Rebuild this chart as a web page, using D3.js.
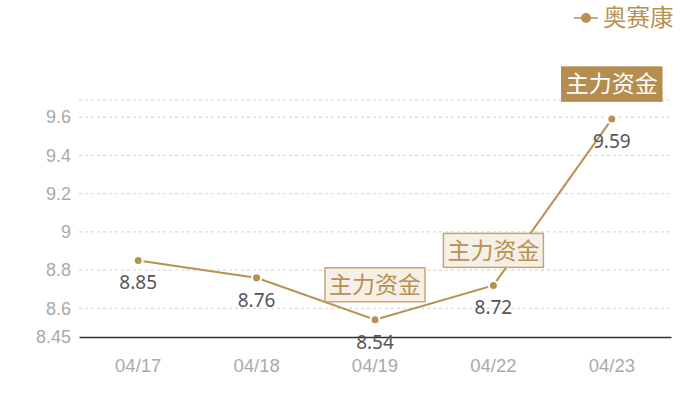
<!DOCTYPE html>
<html>
<head>
<meta charset="utf-8">
<script src="https://cdn.jsdelivr.net/npm/d3@7"></script>
<style>
  body { margin: 0; background: #fff; }
  svg { font-family: "Noto Sans", "Noto Sans CJK SC", sans-serif; }
</style>
</head>
<body>
<div id="chart"></div>
<script>
var categories = ["04/17", "04/18", "04/19", "04/22", "04/23"];
var values = [8.85, 8.76, 8.54, 8.72, 9.59];
var seriesName = "奥赛康";
var yTicks = [8.45, 8.6, 8.8, 9, 9.2, 9.4, 9.6];
var yMin = 8.45, yMax = 9.69;
// flags: which dates have a "主力资金" label, and which one is highlighted
var flagDates = ["04/19", "04/22", "04/23"];
var flagText = "主力资金";
var flagDark = ["04/23"];

function init() {
    var w = 700, h = 400;
    var margin = {left: 79, right: 29, top: 100, bottom: 63};
    var gold = "#b8904f";

    var svg = d3.select("#chart").append("svg")
        .attr("width", w).attr("height", h);

    var x = d3.scaleBand()
        .domain(categories)
        .range([margin.left, w - margin.right]);

    var y = d3.scaleLinear()
        .domain([yMin, yMax])
        .range([h - margin.bottom, margin.top]);

    // grid lines
    var gridVals = yTicks.slice(1).concat([yMax]);
    svg.append("g").selectAll("line")
        .data(gridVals)
        .enter().append("line")
        .attr("x1", margin.left).attr("x2", w - margin.right)
        .attr("y1", function(d) { return y(d); })
        .attr("y2", function(d) { return y(d); })
        .attr("stroke", "#cfcfcf")
        .attr("stroke-dasharray", "3,3");

    // y axis
    var yAxis = d3.axisLeft(y).tickValues(yTicks).tickSize(0).tickPadding(8)
        .tickFormat(function(d) { return d3.format("")(d); });
    var gy = svg.append("g")
        .attr("transform", "translate(" + margin.left + ",0)")
        .call(yAxis);
    gy.select(".domain").remove();
    gy.selectAll("text").attr("fill", "#aaa").style("font-size", "18px");

    // x axis
    var xAxis = d3.axisBottom(x).tickSize(0).tickPadding(22);
    var gx = svg.append("g")
        .attr("transform", "translate(0," + (h - margin.bottom) + ")")
        .call(xAxis);
    gx.select(".domain").attr("stroke", "#333").attr("stroke-width", 1.5);
    gx.selectAll("text").attr("fill", "#aaa").style("font-size", "18.5px");

    var cx = function(d, i) { return x(categories[i]) + x.bandwidth() / 2; };

    // line
    var line = d3.line()
        .x(function(d, i) { return cx(d, i); })
        .y(function(d) { return y(d); });
    svg.append("path")
        .datum(values)
        .attr("d", line)
        .attr("fill", "none")
        .attr("stroke", gold)
        .attr("stroke-width", 2);

    // flags
    var flags = svg.append("g");
    categories.forEach(function(c, i) {
        if (flagDates.indexOf(c) < 0) return;
        var dark = flagDark.indexOf(c) >= 0;
        var px = cx(values[i], i), py = y(values[i]);
        var bw = 100, bh = 34;
        var by = py - 18 - bh;
        flags.append("rect")
            .attr("x", px - bw / 2).attr("y", by)
            .attr("width", bw).attr("height", bh)
            .attr("fill", dark ? "#b58d4e" : "#f4efe7")
            .attr("stroke", dark ? "#b58d4e" : "#c9a56c")
            .attr("stroke-width", 1.5);
        flags.append("text")
            .attr("x", px).attr("y", by + bh / 2)
            .attr("dy", "0.36em")
            .attr("text-anchor", "middle")
            .attr("fill", dark ? "#fff" : "#b8904f")
            .style("font-family", "'Noto Sans CJK SC', sans-serif")
            .style("font-size", "23px")
            .text(flagText);
    });

    // points
    svg.append("g").selectAll("circle")
        .data(values)
        .enter().append("circle")
        .attr("cx", cx)
        .attr("cy", function(d) { return y(d); })
        .attr("r", 4.5)
        .attr("fill", gold)
        .attr("stroke", "#fff")
        .attr("stroke-width", 2);

    // value labels
    svg.append("g").selectAll("text")
        .data(values)
        .enter().append("text")
        .attr("x", cx)
        .attr("y", function(d) { return y(d) + 22; })
        .attr("dy", "0.36em")
        .attr("text-anchor", "middle")
        .attr("fill", "#555")
        .style("font-size", "19px")
        .text(function(d) { return d3.format(".2f")(d); });

    // legend
    var lg = svg.append("g").attr("transform", "translate(574,18)");
    lg.append("line").attr("x1", 0).attr("x2", 24)
        .attr("stroke", gold).attr("stroke-width", 1.5);
    lg.append("circle").attr("cx", 12).attr("r", 5).attr("fill", gold);
    lg.append("text").attr("x", 29).attr("dy", "0.36em")
        .attr("fill", gold)
        .style("font-family", "'Noto Sans CJK SC', sans-serif")
        .style("font-size", "23.5px")
        .text(seriesName);
}
window.onload = init;
</script>
</body>
</html>
